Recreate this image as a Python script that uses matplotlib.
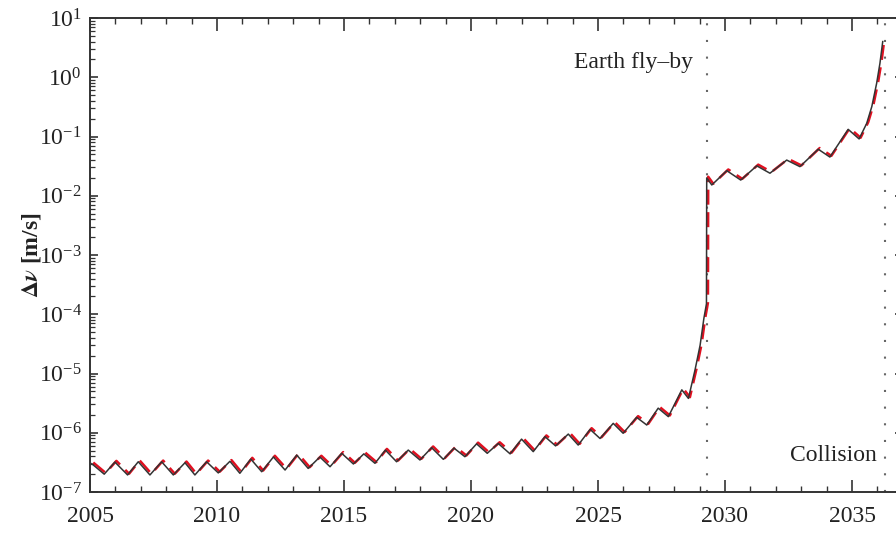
import numpy as np
import matplotlib
matplotlib.use("Agg")
import matplotlib.pyplot as plt
import matplotlib.transforms as mtransforms
from matplotlib.ticker import MultipleLocator, LogLocator, NullFormatter, LogFormatterMathtext

plt.rcParams['font.family'] = ['Liberation Serif', 'DejaVu Serif']
plt.rcParams['mathtext.fontset'] = 'stix'

# delta-v needed to deflect the asteroid, by epoch of the impulse
years = [
    2005.07, 2005.56, 2005.98, 2006.48, 2006.90, 2007.36, 2007.82, 2008.28,
    2008.74, 2009.13, 2009.59, 2010.05, 2010.51, 2010.90, 2011.33, 2011.76,
    2012.22, 2012.68, 2013.14, 2013.59, 2014.05, 2014.45, 2014.91, 2015.37,
    2015.78, 2016.22, 2016.63, 2017.07, 2017.53, 2017.99, 2018.45, 2018.91,
    2019.33, 2019.76, 2020.22, 2020.64, 2021.07, 2021.54, 2021.99, 2022.45,
    2022.91, 2023.33, 2023.83, 2024.22, 2024.69, 2025.08, 2025.60, 2025.99,
    2026.52, 2026.92, 2027.37, 2027.77, 2028.30, 2028.56, 2028.82, 2029.02,
    2029.17, 2029.27, 2029.28,
    2029.48, 2030.07, 2030.62, 2031.25, 2031.77, 2032.43, 2032.95, 2033.67,
    2034.13, 2034.85, 2035.28, 2035.58, 2035.78, 2035.97, 2036.10, 2036.21,
]
dv = [
    3.0e-7, 2.0e-7, 3.2e-7, 1.94e-7, 3.24e-7, 1.94e-7, 3.24e-7, 1.94e-7,
    3.12e-7, 1.94e-7, 3.24e-7, 2.1e-7, 3.3e-7, 2.07e-7, 3.6e-7, 2.2e-7,
    3.9e-7, 2.35e-7, 4.2e-7, 2.5e-7, 3.9e-7, 2.67e-7, 4.5e-7, 2.97e-7,
    4.4e-7, 3.05e-7, 5.1e-7, 3.24e-7, 5.1e-7, 3.47e-7, 5.6e-7, 3.56e-7,
    5.5e-7, 3.94e-7, 6.5e-7, 4.5e-7, 6.6e-7, 4.4e-7, 7.8e-7, 4.8e-7,
    8.6e-7, 6.0e-7, 9.5e-7, 6.2e-7, 1.14e-6, 8.0e-7, 1.44e-6, 9.8e-7,
    1.82e-6, 1.35e-6, 2.6e-6, 1.87e-6, 5.3e-6, 3.8e-6, 1.15e-5, 3.0e-5,
    8.6e-5, 1.5e-4, 2.0e-2,
    1.52e-2, 2.65e-2, 1.84e-2, 3.2e-2, 2.4e-2, 4.0e-2, 3.1e-2, 6.1e-2,
    4.5e-2, 0.132, 0.091, 0.167, 0.32, 0.79, 1.72, 4.0,
]

flyby_year = 2029.28
collision_year = 2036.28

fig = plt.figure(figsize=(8.96, 5.43), dpi=100)
ax = fig.add_axes([90 / 896, 51 / 543, 812.8 / 896, 474 / 543])

# red dashed curve sits just under the black one, nudged a pixel or so
shift = mtransforms.offset_copy(ax.transData, fig=fig, x=1.5, y=1.2, units='dots')
ax.plot(years, dv, color='#e01020', lw=1.8, ls=(0, (6, 3)), transform=shift, zorder=2)
ax.plot(years, dv, color='#333333', lw=1.1, zorder=3)

for yr in (flyby_year, collision_year):
    ax.axvline(yr, color='#666666', lw=1.5, ls=(0, (1, 7)), zorder=1)

ax.text(2028.74, 1.8, 'Earth fly\u2013by', ha='right', va='center', fontsize=17, color='#222222')
ax.text(2035.98, 4.2e-7, 'Collision', ha='right', va='center', fontsize=17, color='#222222')

ax.set_yscale('log')
ax.set_xlim(2005, 2037)
ax.set_ylim(1e-7, 1e1)
ax.set_xticks(range(2005, 2036, 5))
ax.xaxis.set_minor_locator(MultipleLocator(1))
ax.set_yticks([10.0 ** k for k in range(-7, 2)])
ax.yaxis.set_major_formatter(LogFormatterMathtext())
ax.yaxis.set_minor_locator(LogLocator(base=10, subs=np.arange(2, 10), numticks=20))
ax.yaxis.set_minor_formatter(NullFormatter())

ax.tick_params(which='both', direction='in', top=True, right=True,
               color='#333333', labelsize=17, labelcolor='#222222')
ax.tick_params(axis='x', which='major', length=9, width=1.2, pad=10)
ax.tick_params(axis='x', which='minor', length=4, width=1.0)
ax.tick_params(axis='y', which='major', length=6, width=1.2, pad=6)
ax.tick_params(axis='y', which='minor', length=3.5, width=0.9)
for s in ax.spines.values():
    s.set_linewidth(1.4)
    s.set_color('#333333')

ax.set_ylabel(r'$\mathbf{\Delta}\boldsymbol{\nu}$ [m/s]', fontsize=17, fontweight='bold', color='#222222')
ax.yaxis.set_label_coords(-0.058, 0.5)

fig.savefig('out.png', dpi=100)
